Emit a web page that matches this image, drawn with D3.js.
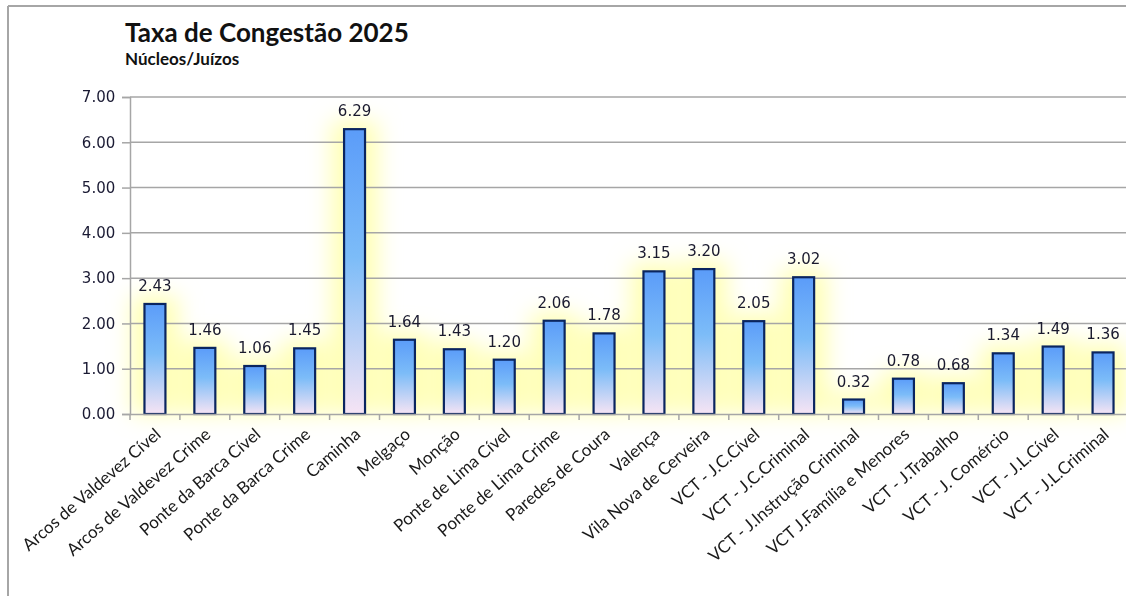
<!DOCTYPE html>
<html>
<head>
<meta charset="utf-8">
<script src="https://cdn.jsdelivr.net/npm/d3@7"></script>
<style>
  html, body { margin: 0; padding: 0; background: #fff; }
  svg { display: block; }
</style>
</head>
<body>
<div id="chart"></div>
<script>
// Data
const categories = ["Arcos de Valdevez Cível", "Arcos de Valdevez Crime", "Ponte da Barca Cível",
    "Ponte da Barca Crime", "Caminha", "Melgaço", "Monção", "Ponte de Lima Cível", "Ponte de Lima Crime",
    "Paredes de Coura", "Valença", "Vila Nova de Cerveira", "VCT - J.C.Cível", "VCT - J.C.Criminal",
    "VCT - J.Instrução Criminal", "VCT J.Família e Menores", "VCT - J.Trabalho", "VCT - J. Comércio",
    "VCT - J.L.Cível", "VCT - J.L.Criminal"];
const values = [2.43, 1.46, 1.06, 1.45, 6.29, 1.64, 1.43, 1.20, 2.06, 1.78, 3.15, 3.20, 2.05, 3.02,
    0.32, 0.78, 0.68, 1.34, 1.49, 1.36];
const yTicks = [0, 1, 2, 3, 4, 5, 6, 7];
const title = "Taxa de Congestão 2025";
const subtitle = "Núcleos/Juízos";

// Size data
const W = 1126, H = 596;
const m = { top: 97, right: -2, bottom: 182, left: 130 };

const svg = d3.select("#chart")
    .append("svg")
    .attr("width", W)
    .attr("height", H);

const defs = svg.append("defs");
// Bar gradient
const grad = defs.append("linearGradient")
    .attr("id", "barGrad")
    .attr("x1", 0).attr("y1", 0).attr("x2", 0).attr("y2", 1);
grad.append("stop").attr("offset", "0%").attr("stop-color", "#5b9cf9");
grad.append("stop").attr("offset", "45%").attr("stop-color", "#7cbcf8");
grad.append("stop").attr("offset", "100%").attr("stop-color", "#f6e4f4");
// Glow filter
const glow = defs.append("filter")
    .attr("id", "glow")
    .attr("x", "-200%").attr("y", "-50%")
    .attr("width", "500%").attr("height", "200%");
glow.append("feGaussianBlur").attr("stdDeviation", 11);

// Frame
svg.append("line")
    .attr("x1", 8).attr("x2", W).attr("y1", 6).attr("y2", 6)
    .attr("stroke", "#a6a6a6").attr("stroke-width", 2);
svg.append("line")
    .attr("x1", 8).attr("x2", 8).attr("y1", 6).attr("y2", H)
    .attr("stroke", "#a6a6a6").attr("stroke-width", 2);

// Titles
svg.append("text")
    .attr("x", 125).attr("y", 42)
    .attr("font-family", "Lato")
    .attr("font-weight", "bold")
    .attr("font-size", 26)
    .attr("fill", "#111")
    .text(title);
svg.append("text")
    .attr("x", 125).attr("y", 65)
    .attr("font-family", "Lato")
    .attr("font-weight", "bold")
    .attr("font-size", 17)
    .attr("fill", "#111")
    .text(subtitle);

// Scales
const x = d3.scaleBand().domain(categories).range([m.left, W - m.right]).paddingInner(0.58).paddingOuter(0.29);
const xb = d3.scaleBand().domain(categories).range([m.left, W - m.right]);
const y = d3.scaleLinear().domain([0, 7]).range([H - m.bottom, m.top]);

// Glow behind bars
svg.append("g")
    .attr("filter", "url(#glow)")
    .selectAll("rect")
    .data(values)
    .join("rect")
    .attr("x", (d, i) => x(categories[i]) - 13)
    .attr("width", x.bandwidth() + 26)
    .attr("y", d => y(d) - 8)
    .attr("height", d => y(0) - y(d) + 8)
    .attr("fill", "#ffffa8")
    .attr("opacity", 0.85);

// Gridlines
svg.append("g")
    .selectAll("line")
    .data(yTicks.slice(1))
    .join("line")
    .attr("x1", m.left).attr("x2", W)
    .attr("y1", d => y(d)).attr("y2", d => y(d))
    .attr("stroke", "#a6a6a6").attr("stroke-width", 1.5);

// Y axis
const yAxis = svg.append("g")
    .attr("transform", `translate(${m.left},0)`)
    .call(d3.axisLeft(y).tickValues(yTicks).tickSize(8).tickFormat(d3.format(".2f")));
yAxis.selectAll("path, line").attr("stroke", "#a6a6a6").attr("stroke-width", 1.5);
yAxis.selectAll("text")
    .attr("font-family", "DejaVu Sans")
    .attr("font-size", 15)
    .attr("fill", "#1a1a33")
    .attr("dx", "-0.25em");

// Bars
svg.append("g")
    .selectAll("rect")
    .data(values)
    .join("rect")
    .attr("x", (d, i) => x(categories[i]))
    .attr("width", x.bandwidth())
    .attr("y", d => y(d))
    .attr("height", d => y(0) - y(d))
    .attr("fill", "url(#barGrad)")
    .attr("stroke", "#0a2560")
    .attr("stroke-width", 2.2);

// X axis
const xAxis = svg.append("g")
    .attr("transform", `translate(0,${y(0)})`)
    .call(d3.axisBottom(xb).tickSize(0).tickSizeOuter(0));
xAxis.select("path").attr("stroke", "#a6a6a6").attr("stroke-width", 1.5);
xAxis.selectAll(".tick line").remove();
// Tick marks between categories
svg.append("g")
    .selectAll("line")
    .data(categories)
    .join("line")
    .attr("x1", d => xb(d)).attr("x2", d => xb(d))
    .attr("y1", y(0)).attr("y2", y(0) + 6)
    .attr("stroke", "#a6a6a6").attr("stroke-width", 1.5);
xAxis.selectAll("text")
    .attr("font-family", "Lato")
    .attr("font-size", 17)
    .attr("fill", "#1a1a1a")
    .attr("text-anchor", "end")
    .attr("y", 0)
    .attr("dy", 0)
    .attr("transform", "translate(7,22) rotate(-41)");

// Value labels
svg.append("g")
    .selectAll("text")
    .data(values)
    .join("text")
    .attr("x", (d, i) => x(categories[i]) + x.bandwidth() / 2)
    .attr("y", d => y(d) - 13)
    .attr("text-anchor", "middle")
    .attr("font-family", "DejaVu Sans")
    .attr("font-size", 15)
    .attr("fill", "#1a1a2e")
    .text(d => d.toFixed(2));
</script>
</body>
</html>
